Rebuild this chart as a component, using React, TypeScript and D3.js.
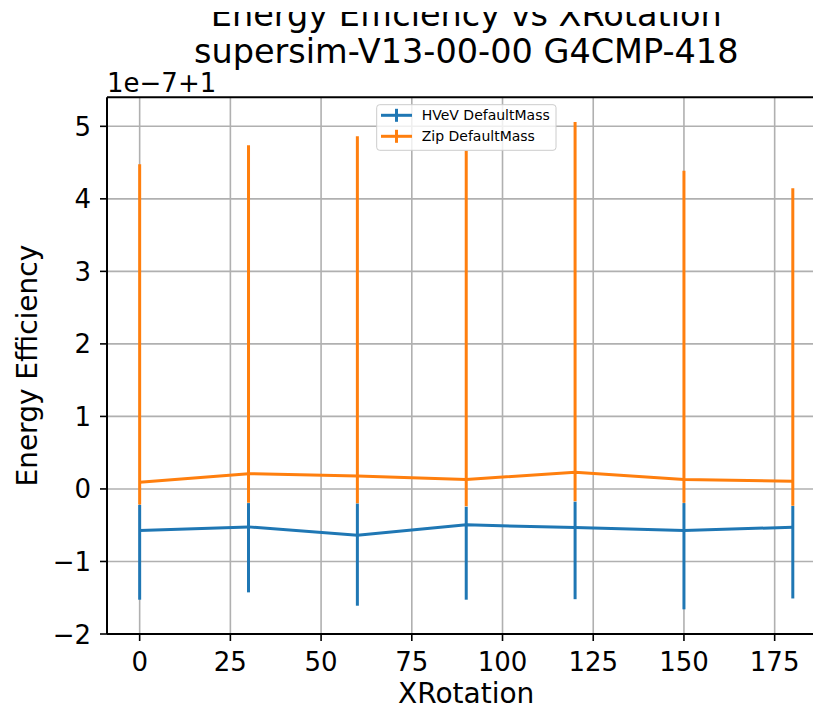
import React from "react";
import * as d3 from "d3";

const xRotation = [0, 30, 60, 90, 120, 150, 180];
const hvevValue = [-0.574, -0.523, -0.637, -0.495, -0.532, -0.574, -0.527];
const hvevLow = [-1.527, -1.426, -1.61, -1.527, -1.52, -1.66, -1.51];
const hvevHigh = [-0.22, -0.195, -0.2, -0.245, -0.175, -0.195, -0.235];
const zipValue = [0.092, 0.21, 0.18, 0.13, 0.23, 0.13, 0.105];
const zipLow = [-0.216, -0.19, -0.197, -0.24, -0.17, -0.19, -0.23];
const zipHigh = [4.476, 4.74, 4.862, 4.665, 5.059, 4.388, 4.145];
const xTicks = [0, 25, 50, 75, 100, 125, 150, 175];
const yTicks = [-2, -1, 0, 1, 2, 3, 4, 5];
const seriesNames = ["HVeV DefaultMass", "Zip DefaultMass"];
const seriesColors = ["#1f77b4", "#ff7f0e"];

const W = 813;
const H = 707;
const FONT = "DejaVu Sans, Liberation Sans, sans-serif";

export default function App() {
  const left = 107;
  const top = 97.3;
  const bottom = 634;
  const xScale = d3.scaleLinear().domain([-9, 189]).range([left, left + 198 * 3.6286]);
  const yScale = d3.scaleLinear().domain([-2, 5.4]).range([bottom, top]);
  const right = xScale(189);

  const series = [
    { name: seriesNames[0], color: seriesColors[0], v: hvevValue, lo: hvevLow, hi: hvevHigh },
    { name: seriesNames[1], color: seriesColors[1], v: zipValue, lo: zipLow, hi: zipHigh },
  ];

  const line = d3
    .line<number>()
    .x((_, i) => xScale(xRotation[i]))
    .y((d) => yScale(d));

  const fmt = (t: number) => (t < 0 ? "\u2212" + Math.abs(t) : String(t));

  const legX = 376.7;
  const legY = 104.7;
  const legW = 179.3;
  const legH = 45.6;

  return (
    <div style={{ position: "absolute", left: 0, top: 0 }}>
      <svg width={W} height={H} style={{ display: "block", background: "#fff" }} fontFamily={FONT}>
        <defs>
          <clipPath id="titleClip">
            <rect x={0} y={12} width={W} height={40} />
          </clipPath>
          <clipPath id="plotClip">
            <rect x={left} y={top} width={right - left} height={bottom - top} />
          </clipPath>
        </defs>
        <rect x={0} y={0} width={W} height={H} fill="#fff" />

        {/* grid */}
        <g stroke="#b0b0b0" strokeWidth={1.6}>
          {xTicks.map((t) => (
            <line key={"gx" + t} x1={xScale(t)} x2={xScale(t)} y1={top} y2={bottom} />
          ))}
          {yTicks.map((t) => (
            <line key={"gy" + t} x1={left} x2={right} y1={yScale(t)} y2={yScale(t)} />
          ))}
        </g>

        {/* series */}
        <g clipPath="url(#plotClip)">
          {series.map((s) => (
            <g key={s.name}>
              <path d={line(s.v) || ""} fill="none" stroke={s.color} strokeWidth={3} />
              {xRotation.map((x, i) => (
                <line
                  key={i}
                  x1={xScale(x)}
                  x2={xScale(x)}
                  y1={yScale(s.lo[i])}
                  y2={yScale(s.hi[i])}
                  stroke={s.color}
                  strokeWidth={3}
                />
              ))}
            </g>
          ))}
        </g>

        {/* spines */}
        <g stroke="#000" strokeWidth={2} fill="none">
          <line x1={left} x2={left} y1={top} y2={bottom} />
          <line x1={left} x2={right} y1={bottom} y2={bottom} />
          <line x1={left} x2={right} y1={top} y2={top} />
          <line x1={right} x2={right} y1={top} y2={bottom} />
        </g>

        {/* x ticks */}
        {xTicks.map((t) => (
          <g key={"xt" + t}>
            <line x1={xScale(t)} x2={xScale(t)} y1={bottom} y2={bottom + 7} stroke="#000" strokeWidth={1.6} />
            <text x={xScale(t)} y={670.5} textAnchor="middle" fontSize={26} fill="#000">
              {fmt(t)}
            </text>
          </g>
        ))}

        {/* y ticks */}
        {yTicks.map((t) => (
          <g key={"yt" + t}>
            <line x1={left - 7} x2={left} y1={yScale(t)} y2={yScale(t)} stroke="#000" strokeWidth={1.6} />
            <text x={91} y={yScale(t) + 9.5} textAnchor="end" fontSize={26} fill="#000">
              {fmt(t)}
            </text>
          </g>
        ))}

        {/* offset text */}
        <text x={107} y={92} fontSize={26} fill="#000">
          1e{"\u2212"}7+1
        </text>

        {/* axis labels */}
        <text x={(left + right) / 2} y={703} textAnchor="middle" fontSize={28} fill="#000">
          XRotation
        </text>
        <text
          transform={`translate(37, ${(top + bottom) / 2}) rotate(-90)`}
          textAnchor="middle"
          fontSize={28}
          fill="#000"
        >
          Energy Efficiency
        </text>

        {/* title */}
        <g clipPath="url(#titleClip)">
          <text x={(left + right) / 2} y={25.5} textAnchor="middle" fontSize={33.5} fill="#000">
            Energy Efficiency vs XRotation
          </text>
        </g>
        <text x={(left + right) / 2} y={63} textAnchor="middle" fontSize={33.5} fill="#000">
          supersim-V13-00-00 G4CMP-418
        </text>

        {/* legend */}
        <g>
          <rect
            x={legX}
            y={legY}
            width={legW}
            height={legH}
            rx={3}
            fill="#fff"
            fillOpacity={0.8}
            stroke="#cccccc"
            strokeWidth={1}
          />
          {series.map((s, i) => {
            const cy = 115.3 + i * 21;
            return (
              <g key={"leg" + i}>
                <line x1={381} x2={412} y1={cy} y2={cy} stroke={s.color} strokeWidth={3} />
                <line x1={396.5} x2={396.5} y1={cy - 6.5} y2={cy + 6.5} stroke={s.color} strokeWidth={3} />
                <text x={421.7} y={cy + 5} fontSize={14} fill="#000">
                  {s.name}
                </text>
              </g>
            );
          })}
        </g>
      </svg>
    </div>
  );
}
